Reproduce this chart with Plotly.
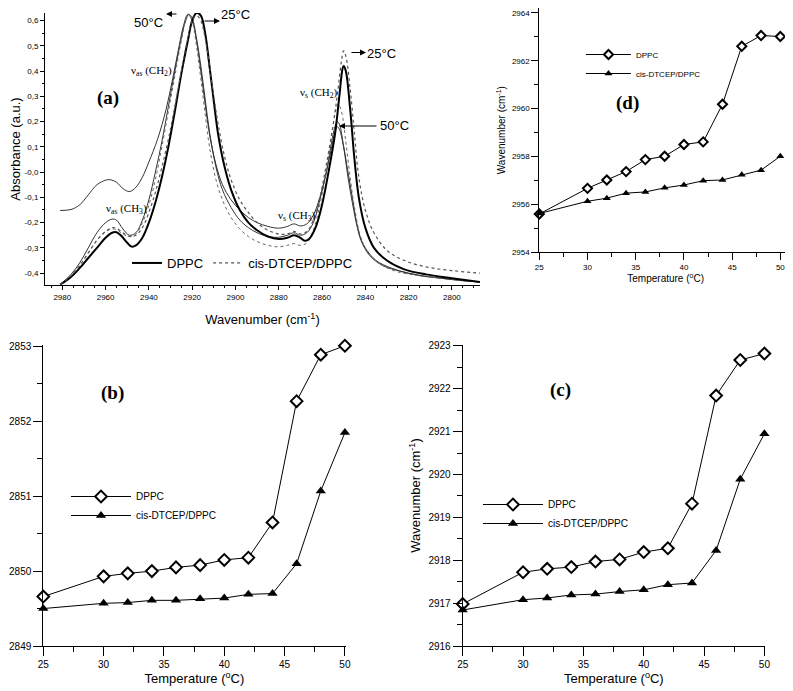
import plotly.graph_objects as go

# the page body adds an 8px margin, so the figure is 8px smaller and shifted
OFF = 8
W, H = 793 - OFF, 691 - OFF

# ---- panel (a): FTIR spectra ----
# solid thin, raised baseline (DPPC 50 C)
wn_s50 = [2981, 2976, 2972, 2968, 2964, 2960, 2958, 2955, 2952, 2949, 2946, 2943, 2940, 2936, 2932, 2929,
          2926, 2924, 2922, 2920, 2918, 2916, 2914, 2912, 2909, 2906, 2902, 2898, 2894, 2890, 2885, 2880,
          2876, 2873, 2870, 2867, 2864, 2861, 2858, 2856, 2854, 2853, 2852, 2850, 2848, 2846, 2844, 2842,
          2838, 2832, 2825, 2815, 2805, 2795, 2787]
ab_s50 = [-0.152, -0.148, -0.13, -0.09, -0.05, -0.032, -0.03, -0.04, -0.065, -0.077, -0.06, -0.02, 0.04, 0.13,
          0.25, 0.37, 0.5, 0.58, 0.625, 0.6, 0.52, 0.4, 0.27, 0.15, 0.03, -0.05, -0.11, -0.15, -0.18, -0.2,
          -0.215, -0.222, -0.215, -0.205, -0.213, -0.205, -0.17, -0.1, 0.0, 0.08, 0.16, 0.18, 0.17, 0.1, 0.0,
          -0.1, -0.2, -0.27, -0.33, -0.37, -0.39, -0.41, -0.42, -0.43, -0.435]
# solid thin (second solid trace)
wn_sb = [2981, 2976, 2972, 2968, 2964, 2960, 2957, 2955, 2952, 2949, 2946, 2943, 2940, 2937, 2934, 2931,
         2928, 2925, 2923, 2921.5, 2920, 2918, 2916, 2914, 2912, 2909, 2906, 2902, 2898, 2894, 2890, 2885,
         2880, 2876, 2873, 2870, 2867, 2864, 2861, 2858, 2856, 2854, 2853, 2852, 2850, 2848, 2846, 2843,
         2840, 2835, 2828, 2820, 2810, 2800, 2787]
ab_sb = [-0.445, -0.405, -0.36, -0.3, -0.24, -0.2, -0.186, -0.19, -0.225, -0.25, -0.24, -0.19, -0.11, 0.0,
         0.12, 0.26, 0.4, 0.53, 0.6, 0.625, 0.61, 0.53, 0.42, 0.29, 0.16, 0.02, -0.07, -0.14, -0.19, -0.22,
         -0.24, -0.255, -0.258, -0.25, -0.24, -0.25, -0.24, -0.2, -0.11, 0.0, 0.1, 0.18, 0.2, 0.19, 0.1,
         -0.02, -0.12, -0.24, -0.3, -0.35, -0.38, -0.4, -0.415, -0.425, -0.435]
# solid thick (DPPC 25 C)
wn_s25 = [2981, 2976, 2972, 2968, 2964, 2960, 2957, 2955, 2953, 2950, 2948, 2946, 2943, 2940, 2937, 2934,
          2931, 2928, 2925, 2922, 2920, 2918, 2916, 2914, 2912, 2910, 2908, 2905, 2902, 2898, 2894, 2890,
          2885, 2880, 2876, 2873, 2870, 2868, 2866, 2863, 2860, 2857, 2854, 2852, 2850.5, 2850, 2849, 2847,
          2845, 2843, 2840, 2836, 2830, 2822, 2812, 2800, 2787]
ab_s25 = [-0.445, -0.415, -0.38, -0.34, -0.3, -0.26, -0.24, -0.238, -0.25, -0.28, -0.295, -0.29, -0.26, -0.2,
          -0.12, -0.02, 0.1, 0.24, 0.39, 0.52, 0.6, 0.63, 0.62, 0.55, 0.42, 0.28, 0.15, 0.02, -0.07, -0.15,
          -0.2, -0.23, -0.255, -0.265, -0.26, -0.25, -0.26, -0.272, -0.265, -0.22, -0.13, 0.0, 0.15, 0.3,
          0.41, 0.42, 0.4, 0.25, 0.05, -0.1, -0.22, -0.3, -0.35, -0.385, -0.405, -0.42, -0.435]
# dotted (cis-DTCEP/DPPC 25 C)
wn_d25 = [2981, 2976, 2972, 2968, 2964, 2960, 2957, 2955, 2952, 2949, 2946, 2943, 2940, 2937, 2934, 2931,
          2928, 2925, 2922, 2920, 2918, 2916, 2914, 2912, 2910, 2908, 2905, 2902, 2898, 2894, 2890, 2885,
          2880, 2876, 2873, 2870, 2867, 2864, 2861, 2858, 2855, 2853, 2851, 2850, 2849, 2847, 2845, 2843,
          2840, 2836, 2830, 2822, 2812, 2800, 2787]
ab_d25 = [-0.445, -0.41, -0.37, -0.32, -0.27, -0.235, -0.22, -0.222, -0.24, -0.255, -0.25, -0.22, -0.16,
          -0.08, 0.02, 0.13, 0.26, 0.4, 0.53, 0.6, 0.62, 0.6, 0.53, 0.42, 0.3, 0.19, 0.06, -0.03, -0.11,
          -0.16, -0.2, -0.23, -0.245, -0.245, -0.235, -0.245, -0.235, -0.19, -0.1, 0.03, 0.18, 0.3, 0.44,
          0.48, 0.46, 0.33, 0.15, -0.02, -0.15, -0.24, -0.31, -0.35, -0.375, -0.39, -0.4]
# dotted (cis-DTCEP/DPPC 50 C)
wn_d50 = [2981, 2976, 2972, 2968, 2964, 2960, 2957, 2955, 2952, 2949, 2946, 2943, 2940, 2937, 2934, 2931,
          2928, 2925, 2923, 2921.5, 2920, 2918, 2916, 2914, 2912, 2909, 2906, 2902, 2898, 2894, 2890, 2885,
          2880, 2876, 2873, 2870, 2867, 2864, 2861, 2858, 2855.5, 2853.5, 2852.5, 2851, 2849, 2847, 2845,
          2842, 2838, 2832, 2825, 2815, 2805, 2795, 2787]
ab_d50 = [-0.445, -0.41, -0.37, -0.32, -0.27, -0.235, -0.225, -0.228, -0.245, -0.255, -0.245, -0.2, -0.13,
          -0.03, 0.1, 0.24, 0.38, 0.52, 0.6, 0.625, 0.6, 0.5, 0.37, 0.23, 0.1, -0.03, -0.11, -0.18, -0.225,
          -0.255, -0.275, -0.29, -0.296, -0.29, -0.283, -0.29, -0.28, -0.23, -0.13, 0.0, 0.15, 0.25, 0.27,
          0.24, 0.12, -0.02, -0.14, -0.26, -0.33, -0.37, -0.395, -0.41, -0.42, -0.43, -0.435]

abs_ticks = [0.6, 0.5, 0.4, 0.3, 0.2, 0.1, 0.0, -0.1, -0.2, -0.3, -0.4]
abs_labels = ["0,6", "0,5", "0,4", "0,3", "0,2", "0,1", "-0,0", "-0,1", "-0,2", "-0,3", "-0,4"]

# ---- panels (b), (c), (d): peak position vs temperature ----
temps = [25, 30, 32, 34, 36, 38, 40, 42, 44, 46, 48, 50]
b_dppc = [2849.66, 2849.93, 2849.97, 2850.0, 2850.05, 2850.08, 2850.15, 2850.18, 2850.65, 2852.27, 2852.89, 2853.01]
b_cis = [2849.5, 2849.57, 2849.58, 2849.61, 2849.61, 2849.63, 2849.64, 2849.69, 2849.7, 2850.1, 2851.07, 2851.85]
c_dppc = [2916.98, 2917.72, 2917.8, 2917.84, 2917.97, 2918.02, 2918.19, 2918.28, 2919.32, 2921.84, 2922.67, 2922.82]
c_cis = [2916.84, 2917.08, 2917.12, 2917.19, 2917.21, 2917.27, 2917.31, 2917.43, 2917.47, 2918.23, 2919.89, 2920.95]
d_dppc = [2955.6, 2956.67, 2957.02, 2957.37, 2957.87, 2958.01, 2958.5, 2958.61, 2960.18, 2962.6, 2963.05, 2963.01]
d_cis = [2955.62, 2956.13, 2956.26, 2956.47, 2956.52, 2956.69, 2956.81, 2956.99, 2957.02, 2957.24, 2957.43, 2958.01]

SANS = "Liberation Sans"
SERIF = "Liberation Serif"

fig = go.Figure()

# spectra
spectra = [
    (wn_s50, ab_s50, dict(color="#333", width=1), None),
    (wn_sb, ab_sb, dict(color="#333", width=1), None),
    (wn_d50, ab_d50, dict(color="#666", width=1, dash="dot"), None),
    (wn_s25, ab_s25, dict(color="black", width=2), "DPPC"),
    (wn_d25, ab_d25, dict(color="#555", width=1.2, dash="dot"), "cis-DTCEP/DPPC"),
]
for wn, ab, ln, nm in spectra:
    fig.add_trace(go.Scatter(x=wn, y=ab, mode="lines", line=ln, line_shape="spline",
                             name=nm or "", showlegend=nm is not None, legend="legend",
                             xaxis="x", yaxis="y", hoverinfo="skip"))

def add_pair(xa, ya, dppc, cis, leg, msize):
    fig.add_trace(go.Scatter(x=temps, y=dppc, mode="lines+markers", name="DPPC",
                             line=dict(color="black", width=1),
                             marker=dict(symbol="diamond", size=msize, color="white",
                                         line=dict(color="black", width=2)),
                             cliponaxis=False, xaxis=xa, yaxis=ya, legend=leg))
    fig.add_trace(go.Scatter(x=temps, y=cis, mode="lines+markers", name="cis-DTCEP/DPPC",
                             line=dict(color="black", width=1),
                             marker=dict(symbol="triangle-up", size=msize, color="black"),
                             cliponaxis=False, xaxis=xa, yaxis=ya, legend=leg))

add_pair("x2", "y2", b_dppc, b_cis, "legend2", 9)
add_pair("x3", "y3", c_dppc, c_cis, "legend3", 9)
add_pair("x4", "y4", d_dppc, d_cis, "legend4", 7)


def px(v):
    return (v - OFF) / W


def py(v):
    return 1 - (v - OFF) / H


axis_common = dict(showline=True, linecolor="black", linewidth=1, ticks="outside", tickcolor="black",
                   showgrid=False, zeroline=False, automargin=False)

temp_x = dict(axis_common, tickvals=[25, 30, 35, 40, 45, 50], ticklen=9,
              minor=dict(dtick=2.5, tick0=25, ticks="outside", ticklen=5, tickcolor="black"))

fig.update_layout(
    template="none",
    width=W, height=H, margin=dict(l=0, r=0, t=0, b=0, autoexpand=False),
    paper_bgcolor="white", plot_bgcolor="white",
    font=dict(family=SANS, color="black"),
    xaxis=dict(axis_common, domain=[px(45), px(480)], range=[2988, 2787], anchor="y",
               tickvals=list(range(2980, 2799, -20)), ticklen=4,
               minor=dict(dtick=5, ticks="outside", ticklen=2, tickcolor="black"),
               tickfont=dict(size=8),
               title=dict(text="Wavenumber (cm<sup>-1</sup>)", font=dict(size=13), standoff=14)),
    yaxis=dict(axis_common, domain=[py(285), py(13)], range=[-0.447, 0.63], anchor="x",
               tickvals=abs_ticks, ticktext=abs_labels, ticklen=4,
               minor=dict(dtick=0.05, ticks="outside", ticklen=2, tickcolor="black"),
               tickfont=dict(size=8),
               title=dict(text="Absorbance (a.u.)", font=dict(size=13), standoff=6)),
    xaxis2=dict(temp_x, domain=[px(43.3), px(345.5)], range=[25, 50.05], anchor="y2",
                tickfont=dict(size=10),
                title=dict(text="Temperature (<sup>o</sup>C)", font=dict(size=13), standoff=4)),
    yaxis2=dict(axis_common, domain=[py(646), py(345)], range=[2849, 2853.02], anchor="x2",
                dtick=1, ticklen=9, tickfont=dict(size=10), tickformat="d",
                minor=dict(dtick=0.5, ticks="outside", ticklen=5, tickcolor="black")),
    xaxis3=dict(temp_x, domain=[px(462.7), px(765)], range=[25, 50.05], anchor="y3",
                tickfont=dict(size=10),
                title=dict(text="Temperature (<sup>o</sup>C)", font=dict(size=13), standoff=4)),
    yaxis3=dict(axis_common, domain=[py(646), py(345)], range=[2916, 2923.02], anchor="x3",
                dtick=1, ticklen=9, tickfont=dict(size=10), tickformat="d",
                minor=dict(dtick=0.5, ticks="outside", ticklen=5, tickcolor="black"),
                title=dict(text="Wavenumber (cm<sup>-1</sup>)", font=dict(size=13), standoff=4)),
    xaxis4=dict(temp_x, domain=[px(539.3), px(792)], range=[25, 51.21], anchor="y4", mirror=True,
                tickfont=dict(size=8), ticklen=7,
                minor=dict(dtick=2.5, tick0=25, ticks="outside", ticklen=4, tickcolor="black"),
                title=dict(text="Temperature (<sup>o</sup>C)", font=dict(size=10), standoff=2)),
    yaxis4=dict(axis_common, domain=[py(252.3), 1.0], range=[2954, 2964.2], anchor="x4", mirror=True,
                dtick=2, ticklen=7, tickfont=dict(size=8), tickformat="d", ticklabeloverflow="allow",
                minor=dict(dtick=1, ticks="outside", ticklen=4, tickcolor="black"),
                title=dict(text="Wavenumber (cm<sup>-1</sup>)", font=dict(size=10), standoff=4)),
    legend=dict(orientation="h", x=px(127), y=py(263), xanchor="left", yanchor="middle",
                bgcolor="rgba(0,0,0,0)", font=dict(size=13), itemwidth=30),
    legend2=dict(x=px(66), y=py(506), xanchor="left", yanchor="middle", bgcolor="rgba(0,0,0,0)",
                 font=dict(size=10), tracegroupgap=0, itemwidth=60),
    legend3=dict(x=px(478), y=py(514), xanchor="left", yanchor="middle", bgcolor="rgba(0,0,0,0)",
                 font=dict(size=10), tracegroupgap=0, itemwidth=60),
    legend4=dict(x=px(581), y=py(64), xanchor="left", yanchor="middle", bgcolor="rgba(0,0,0,0)",
                 font=dict(size=8), tracegroupgap=0, itemwidth=45),
)

ann = []
# panel labels
for lab, cx, cy in [("(a)", 108, 98), ("(b)", 112, 393), ("(c)", 560, 390), ("(d)", 627, 103)]:
    ann.append(dict(text="<b>" + lab + "</b>", x=px(cx), y=py(cy), xref="paper", yref="paper",
                    xanchor="center", yanchor="middle", showarrow=False,
                    font=dict(family=SERIF, size=19)))
# band assignments
for txt, cx, cy in [("ν<sub>as</sub> (CH<sub>2</sub>)", 151, 71), ("ν<sub>s</sub> (CH<sub>2</sub>)", 319, 93),
                    ("ν<sub>as</sub> (CH<sub>3</sub>)", 126, 209), ("ν<sub>s</sub> (CH<sub>3</sub>)", 297, 216)]:
    ann.append(dict(text=txt, x=px(cx), y=py(cy), xref="paper", yref="paper", showarrow=False,
                    xanchor="center", yanchor="middle", font=dict(family=SERIF, size=11)))
# temperature arrows
for hx, hy, dx in [(166, 14, 12), (220, 21, -17), (366, 52.5, -16), (339, 126, 39)]:
    ann.append(dict(text="", x=px(hx), y=py(hy), xref="paper", yref="paper", showarrow=True,
                    ax=dx, ay=0, arrowhead=2, arrowsize=1, arrowwidth=1.2, arrowcolor="black"))
for txt, cx, cy in [("50°C", 148, 23), ("25°C", 235, 15), ("25°C", 381, 53), ("50°C", 394, 126)]:
    ann.append(dict(text=txt, x=px(cx), y=py(cy), xref="paper", yref="paper", showarrow=False,
                    xanchor="center", yanchor="middle", font=dict(family=SANS, size=13)))
fig.update_layout(annotations=ann)

fig.write_html("out.html")
